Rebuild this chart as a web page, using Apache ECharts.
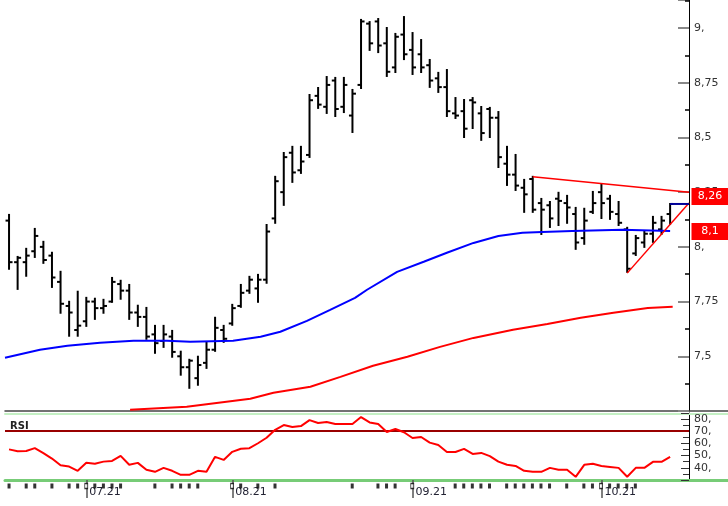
<!DOCTYPE html>
<html>
<head>
<meta charset="utf-8">
<script src="https://cdn.jsdelivr.net/npm/echarts@6/dist/echarts.min.js"></script>
<style>
html,body{margin:0;padding:0;background:#fff;}
#chart{width:728px;height:506px;}
</style>
</head>
<body>
<div id="chart"></div>
<script>
/* daily bars, index 0..77 */
var barOpen = [8.12,7.93,7.93,7.98,8.00,7.96,7.84,7.73,7.62,7.66, 7.75,7.72,7.75,7.83,7.80,7.70,7.68,7.60,7.57,7.59,
	7.50,7.45,7.40,7.47,7.53,7.62,7.65,7.73,7.80,7.81, 7.85,8.13,8.25,8.43,8.35,8.42,8.69,8.64,8.76,8.64,
	8.60,8.74,9.02,9.03,8.93,8.82,8.97,8.90,8.88,8.83, 8.77,8.73,8.61,8.62,8.67,8.61,8.63,8.59,8.38,8.33,
	8.27,8.31,8.20,8.19,8.22,8.20,8.15,8.04,8.16,8.25, 8.22,8.15,8.08,7.97,8.02,8.06,8.08,8.15];
var barHigh = [8.146,7.954,7.991,8.082,8.023,7.973,7.886,7.749,7.795,7.767, 7.763,7.758,7.858,7.845,7.826,7.731,7.721,7.639,7.639,7.616,
	7.521,7.484,7.498,7.562,7.676,7.639,7.735,7.826,7.863,7.872, 8.100,8.320,8.429,8.457,8.457,8.694,8.726,8.776,8.772,8.772,
	8.717,9.037,9.027,9.041,9.000,8.973,9.050,8.977,8.945,8.854, 8.795,8.808,8.680,8.671,8.680,8.639,8.635,8.616,8.457,8.420,
	8.306,8.320,8.219,8.205,8.247,8.233,8.178,8.174,8.251,8.283, 8.233,8.205,8.087,8.050,8.068,8.137,8.137,8.196];
var barLow = [7.900,7.808,7.868,7.954,7.927,7.817,7.699,7.594,7.594,7.639, 7.671,7.699,7.749,7.763,7.671,7.639,7.580,7.516,7.543,7.498,
	7.416,7.356,7.370,7.447,7.525,7.566,7.644,7.726,7.790,7.749, 7.836,8.110,8.192,8.297,8.338,8.411,8.635,8.612,8.598,8.616,
	8.525,8.726,8.900,8.890,8.781,8.799,8.858,8.790,8.799,8.731, 8.708,8.598,8.589,8.502,8.543,8.489,8.502,8.365,8.283,8.260,
	8.160,8.160,8.059,8.091,8.100,8.110,7.991,8.014,8.155,8.132, 8.128,8.100,7.886,7.963,8.000,8.023,8.059,8.105];
var barClose = [7.93,7.95,7.96,8.05,7.94,7.86,7.74,7.70,7.64,7.75, 7.72,7.73,7.84,7.80,7.70,7.68,7.59,7.56,7.60,7.52,
	7.45,7.48,7.46,7.53,7.63,7.58,7.72,7.79,7.85,7.85, 8.07,8.30,8.41,8.34,8.39,8.67,8.65,8.74,8.63,8.74,
	8.70,9.03,8.93,8.92,8.80,8.96,8.88,8.82,8.82,8.76, 8.73,8.62,8.60,8.54,8.66,8.52,8.59,8.41,8.33,8.28,
	8.24,8.17,8.17,8.13,8.21,8.18,8.02,8.12,8.20,8.20, 8.16,8.11,7.90,8.04,8.06,8.11,8.12,8.196];

/* moving averages (read at bar positions) */
var blueIdx = [-0.47,3.6,6.8,10.6,14.5,18.4,21.1,26.1,29.3,31.6,34.7,37.4,40.3,41.7,45.2,48.3,51.0,54.1,57.0,59.8,62.1,65.6,71.4,77.0];
var blueVal = [7.493,7.530,7.548,7.562,7.571,7.571,7.566,7.571,7.589,7.612,7.662,7.712,7.767,7.804,7.886,7.932,7.973,8.018,8.050,8.064,8.068,8.073,8.078,8.073];
var redIdx = [14.1,20.7,28.1,30.8,35.1,38.6,42.4,46.4,50.2,54.1,58.7,62.7,66.6,70.4,74.4,77.3];
var redVal = [7.256,7.269,7.306,7.333,7.361,7.406,7.457,7.498,7.543,7.584,7.621,7.648,7.676,7.699,7.721,7.726];

/* triangle */
var upperTrend = [[61, 8.32], [79.2, 8.25]];
var lowerTrend = [[72, 7.88], [79.2, 8.20]];
var priceTags = [8.26, 8.1];

/* RSI */
var rsiVal = [55,53.5,53.7,56,52,47.5,42,41,37.5,44, 43.2,45,45.6,49.7,42.4,44,38.3,36.7,39.9,37.5,
	34.2,34.2,37.5,36.7,48.9,46.4,53,55.5,56,60, 64.5,71,74.9,73.3,74,78.9,76.5,77.3,75.7,75.7,
	75.7,81.4,77,75.7,69.2,71.6,69,64.3,65.1,60.5, 58.6,52.9,52.9,55.4,51.3,52.1,49.5,45,42.4,41.5,
	37.5,36.7,36.7,39.9,38.3,38.3,32.6,42.4,43.2,41.5, 40.7,39.9,32.6,39.9,39.9,44.8,44.8,48.9];
var rsiLevel = 70;

/* date row */
var dayMarks = [0,2,3,5,7,8,10,11,12,13,17,19,20,21,22,27,29,31,40,43,44,45,52,53,54,55,56,58,59,60,61,62,63,65,67,68,70,71,72,73];
var monthIdx = [9, 26, 47, 69];
var monthLabels = ['07.21', '08.21', '09.21', '10.21'];

var xMin = -0.47, axisAt = 79.2, fullMax = 83.8;
var FONT = 'DejaVu Sans';

function commaFmt(v){
	if (Math.round(v) === v) return v + ',';
	return String(+v.toFixed(3)).replace('.', ',');
}

var bars = barOpen.map(function(o, i){
	return [i, o, barHigh[i], barLow[i], barClose[i]];
});
var lastClose = barClose[barClose.length - 1];

function renderBar(params, api){
	var x = api.value(0);
	var o = api.coord([x, api.value(1)]);
	var h = api.coord([x, api.value(2)]);
	var l = api.coord([x, api.value(3)]);
	var c = api.coord([x, api.value(4)]);
	var st = {stroke: '#000', lineWidth: 2};
	return {
		type: 'group',
		children: [
			{type: 'line', shape: {x1: h[0], y1: h[1] - 1, x2: l[0], y2: l[1] + 1}, style: st},
			{type: 'line', shape: {x1: o[0] - 3.5, y1: o[1], x2: o[0], y2: o[1]}, style: st},
			{type: 'line', shape: {x1: c[0], y1: c[1], x2: c[0] + 3.5, y2: c[1]}, style: st}
		]
	};
}

function pairs(idx, val){
	return idx.map(function(x, i){ return [x, val[i]]; });
}

function tagPoint(v){
	return {
		coord: [axisAt, v],
		symbol: 'rect',
		symbolSize: [37, 17],
		symbolOffset: [21, 6.5],
		itemStyle: {color: '#ff0000'},
		label: {show: true, position: 'inside', formatter: commaFmt(v), color: '#fff', fontSize: 11, fontFamily: FONT}
	};
}

var hidden = {show: false};
function xAx(grid, max, extra){
	return Object.assign({
		type: 'value', gridIndex: grid, min: xMin, max: max,
		splitLine: hidden, axisTick: hidden, axisLabel: hidden, axisLine: hidden
	}, extra || {});
}

var option = {
	animation: false,
	backgroundColor: '#fff',
	title: {
		text: 'RSI', left: 5, top: 416,
		textStyle: {fontSize: 10, fontWeight: 'bold', color: '#222', fontFamily: FONT}
	},
	grid: [
		{left: 5, right: 39, top: 0, height: 411},
		{left: 5, right: 39, top: 413, height: 67},
		{left: 5, right: 0, top: 480, height: 12},
		{left: 5, right: 0, top: 411, height: 3}
	],
	xAxis: [
		xAx(0, axisAt),
		xAx(1, axisAt, {
			position: 'bottom',
			axisLine: {show: false, onZero: false},
			axisTick: {show: true, customValues: monthIdx, length: 18, lineStyle: {color: '#555', width: 1.5}},
			axisLabel: {
				show: true, customValues: monthIdx, margin: 7, align: 'left', padding: [0, 0, 0, 3],
				color: '#223', fontSize: 11, fontFamily: FONT,
				formatter: function(v){ return monthLabels[monthIdx.indexOf(v)]; }
			}
		}),
		xAx(2, fullMax, {position: 'top', axisLine: {show: true, onZero: false, lineStyle: {color: '#77cc77', width: 3}}}),
		xAx(3, fullMax, {position: 'top', axisLine: {show: true, onZero: false, lineStyle: {color: '#444', width: 1.5}}}),
		xAx(3, fullMax, {position: 'bottom', axisLine: {show: true, onZero: false, lineStyle: {color: '#c4f0c4', width: 2}}})
	],
	yAxis: [
		{
			gridIndex: 0, type: 'value', position: 'right',
			min: 7.25, max: 9.128, interval: 0.25,
			axisLine: {show: true, onZero: false, lineStyle: {color: '#000'}},
			axisTick: {show: true, inside: true, length: 11, lineStyle: {color: '#888', width: 2}},
			minorTick: {show: true, splitNumber: 2, length: 4, lineStyle: {color: '#000', width: 1.5}},
			splitLine: hidden, minorSplitLine: hidden,
			axisLabel: {margin: 5, showMaxLabel: false, showMinLabel: false, color: '#333', fontSize: 11, fontFamily: FONT, formatter: commaFmt}
		},
		{
			gridIndex: 1, type: 'value', position: 'right',
			min: 30, max: 84.7, interval: 10,
			axisLine: {show: true, onZero: false, lineStyle: {color: '#000'}},
			axisTick: {show: true, inside: true, length: 8, lineStyle: {color: '#333'}},
			minorTick: {show: true, splitNumber: 2, length: 6, lineStyle: {color: '#333'}},
			splitLine: hidden, minorSplitLine: hidden,
			axisLabel: {margin: 5, showMaxLabel: false, showMinLabel: false, color: '#333', fontSize: 11, fontFamily: FONT, formatter: commaFmt}
		},
		{gridIndex: 2, type: 'category', data: ['d'], show: false},
		{gridIndex: 3, type: 'value', min: 0, max: 1, show: false}
	],
	series: [
		{
			type: 'custom', xAxisIndex: 0, yAxisIndex: 0,
			renderItem: renderBar, data: bars,
			encode: {x: 0, y: [1, 2, 3, 4]}
		},
		{
			type: 'line', xAxisIndex: 0, yAxisIndex: 0, data: pairs(blueIdx, blueVal),
			symbol: 'none', lineStyle: {color: '#0000ff', width: 2},
			markPoint: {data: [tagPoint(priceTags[1])]}
		},
		{
			type: 'line', xAxisIndex: 0, yAxisIndex: 0, data: pairs(redIdx, redVal),
			symbol: 'none', lineStyle: {color: '#ff0000', width: 2}
		},
		{
			type: 'line', xAxisIndex: 0, yAxisIndex: 0, data: upperTrend,
			symbol: 'none', lineStyle: {color: '#ff0000', width: 1.5},
			markPoint: {data: [tagPoint(priceTags[0])]}
		},
		{
			type: 'line', xAxisIndex: 0, yAxisIndex: 0, data: lowerTrend,
			symbol: 'none', lineStyle: {color: '#ff0000', width: 1.5}
		},
		{
			type: 'line', xAxisIndex: 0, yAxisIndex: 0, data: [[bars.length - 1, lastClose], [axisAt, lastClose]],
			symbol: 'none', lineStyle: {color: '#000099', width: 2}
		},
		{
			type: 'line', xAxisIndex: 1, yAxisIndex: 1, data: [[xMin, rsiLevel], [axisAt, rsiLevel]],
			symbol: 'none', lineStyle: {color: '#990000', width: 2}
		},
		{
			type: 'line', xAxisIndex: 1, yAxisIndex: 1,
			data: rsiVal.map(function(v, i){ return [i, v]; }),
			symbol: 'none', lineStyle: {color: '#ff0000', width: 2}
		},
		{
			type: 'scatter', xAxisIndex: 2, yAxisIndex: 2,
			data: dayMarks.map(function(i){ return [i, 'd']; }),
			symbol: 'rect', symbolSize: [3, 5], itemStyle: {color: '#000'}
		},
		{
			type: 'scatter', xAxisIndex: 2, yAxisIndex: 2,
			data: monthIdx.map(function(i){ return [i, 'd']; }),
			symbol: 'rect', symbolSize: [3, 5], itemStyle: {color: '#fff', borderColor: '#000', borderWidth: 1}
		}
	]
};

var chart = echarts.init(document.getElementById('chart'));
chart.setOption(option);
</script>
</body>
</html>
